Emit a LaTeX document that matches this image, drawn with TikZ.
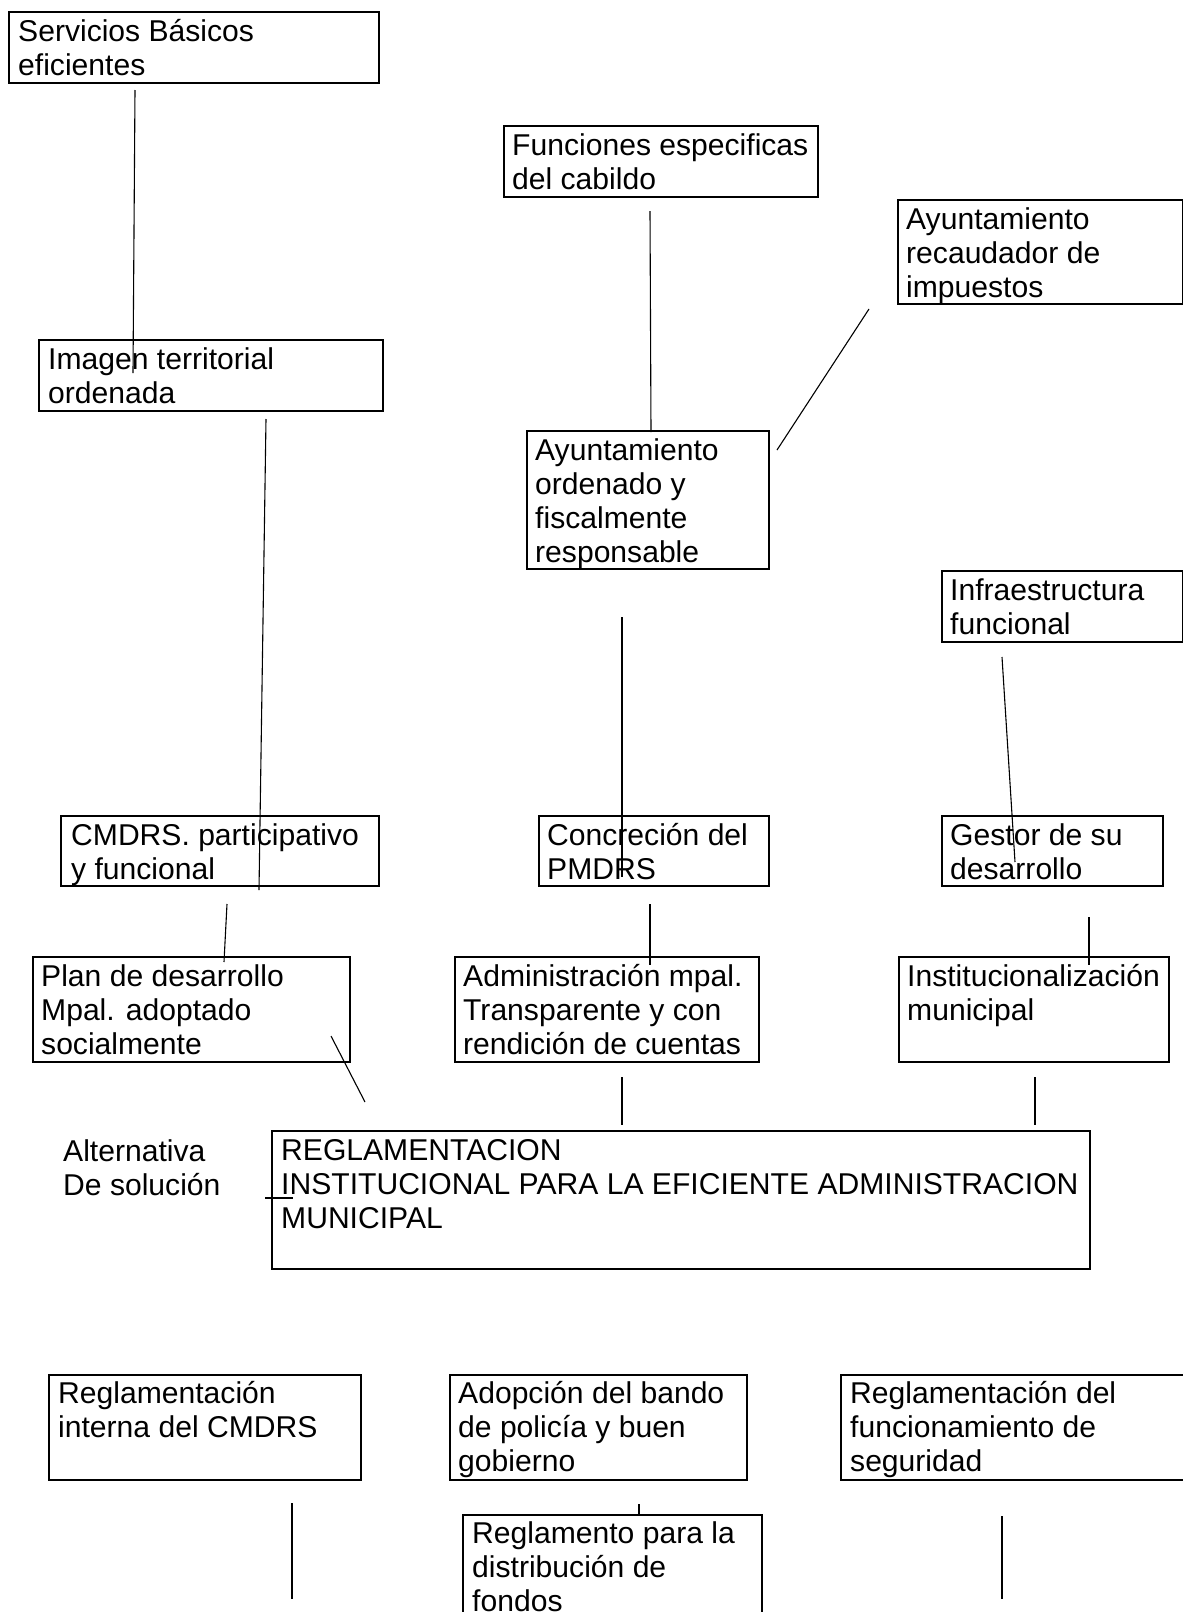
\documentclass[tikz,border=0pt]{standalone}
\usepackage{fontspec}
\setmainfont{Liberation Sans}
\begin{document}
\begin{tikzpicture}[x=1pt,y=-1pt,
  box/.style={draw=black,line width=1.8pt,inner sep=0pt,anchor=north west,rectangle},
  txt/.style={inner sep=0pt,anchor=north west,align=left,text=black,font=\fontsize{30.1}{34}\selectfont},
  conn/.style={draw=black,line width=1.1pt}]
\useasboundingbox (0,0) rectangle (1183,1612);
\fill[white] (0,0) rectangle (1183,1612);
% boxes
\node[box,minimum width=370pt,minimum height=71pt] (A) at (8,11) {};
\node[box,minimum width=344pt,minimum height=71pt] (B) at (38,339) {};
\node[box,minimum width=314pt,minimum height=71pt] (C) at (503,125) {};
\node[box,minimum width=285pt,minimum height=104pt] (D) at (897,199) {};
\node[box,minimum width=242pt,minimum height=138pt] (E) at (526,430) {};
\node[box,minimum width=241pt,minimum height=71pt] (F) at (941,570) {};
\node[box,minimum width=318pt,minimum height=70pt] (G) at (60,815) {};
\node[box,minimum width=230pt,minimum height=70pt] (H) at (538,815) {};
\node[box,minimum width=221pt,minimum height=70pt] (I) at (941,815) {};
\node[box,minimum width=317pt,minimum height=105pt] (J) at (32,956) {};
\node[box,minimum width=304pt,minimum height=105pt] (K) at (454,956) {};
\node[box,minimum width=270pt,minimum height=105pt] (L) at (898,956) {};
\node[box,minimum width=818pt,minimum height=138pt] (M) at (271,1130) {};
\node[box,minimum width=312pt,minimum height=105pt] (N) at (48,1374) {};
\node[box,minimum width=297pt,minimum height=105pt] (O) at (449,1374) {};
\node[box,minimum width=360pt,minimum height=105pt] (P) at (840,1374) {};
\node[box,minimum width=299pt,minimum height=130pt] (Q) at (462,1514) {};
% texts
\node[txt] (tA) at ([xshift=10pt,yshift=-6pt]A.north west) {\strut Servicios Básicos\\eficientes};
\node[txt] (tB) at ([xshift=10pt,yshift=-6pt]B.north west) {\strut Imagen territorial\\ordenada};
\node[txt] (tC) at ([xshift=9pt,yshift=-6pt]C.north west) {\strut Funciones especificas\\del cabildo};
\node[txt] (tD) at ([xshift=9pt,yshift=-6pt]D.north west) {\strut Ayuntamiento\\recaudador de\\impuestos};
\node[txt] (tE) at ([xshift=9pt,yshift=-6pt]E.north west) {\strut Ayuntamiento\\ordenado y\\fiscalmente\\responsable};
\node[txt] (tF) at ([xshift=9pt,yshift=-6pt]F.north west) {\strut Infraestructura\\funcional};
\node[txt] (tG) at ([xshift=11pt,yshift=-6pt]G.north west) {\strut CMDRS. participativo\\y funcional};
\node[txt] (tH) at ([xshift=9pt,yshift=-6pt]H.north west) {\strut Concreción del\\PMDRS};
\node[txt] (tI) at ([xshift=9pt,yshift=-6pt]I.north west) {\strut Gestor de su\\desarrollo};
\node[txt] (tJ) at ([xshift=9pt,yshift=-6pt]J.north west) {\strut Plan de desarrollo\\Mpal. adoptado\\socialmente};
\node[txt] (tK) at ([xshift=9pt,yshift=-6pt]K.north west) {\strut Administración mpal.\\Transparente y con\\rendición de cuentas};
\node[txt] (tL) at ([xshift=9pt,yshift=-6pt]L.north west) {\strut Institucionalización\\municipal};
\node[txt] (tM) at ([xshift=10pt,yshift=-6pt]M.north west) {\strut REGLAMENTACION\\INSTITUCIONAL PARA LA EFICIENTE ADMINISTRACION\\MUNICIPAL};
\node[txt] (tAlt) at (63,1137) {\strut Alternativa\\De solución};
\node[txt] (tN) at ([xshift=10pt,yshift=-5pt]N.north west) {\strut Reglamentación\\interna del CMDRS};
\node[txt] (tO) at ([xshift=9pt,yshift=-5pt]O.north west) {\strut Adopción del bando\\de policía y buen\\gobierno};
\node[txt] (tP) at ([xshift=10pt,yshift=-5pt]P.north west) {\strut Reglamentación del\\funcionamiento de\\seguridad};
\node[txt] (tQ) at ([xshift=10pt,yshift=-5pt]Q.north west) {\strut Reglamento para la\\distribución de\\fondos};
% connector end points
\coordinate (a1) at (135,90);   \coordinate (a2) at (133,373);
\coordinate (c1) at (650,211);  \coordinate (c2) at (651,432);
\coordinate (d1) at (869,309);  \coordinate (d2) at (777,450);
\coordinate (e1) at (622,617);  \coordinate (e2) at (622,877);
\coordinate (f1) at (1002,657); \coordinate (f2) at (1015,862);
\coordinate (b1) at (266,419);  \coordinate (b2) at (259,890);
\coordinate (g1) at (227,904);  \coordinate (g2) at (224,962);
\coordinate (h1) at (650,904);  \coordinate (h2) at (650,965);
\coordinate (i1) at (1089,917); \coordinate (i2) at (1089,965);
\coordinate (j1) at (331,1036); \coordinate (j2) at (365,1102);
\coordinate (k1) at (622,1077); \coordinate (k2) at (622,1125);
\coordinate (l1) at (1035,1077);\coordinate (l2) at (1035,1125);
\coordinate (t1) at (265,1198); \coordinate (t2) at (293,1198);
\coordinate (n1) at (292,1503); \coordinate (n2) at (292,1599);
\coordinate (o1) at (639,1504); \coordinate (o2) at (639,1516);
\coordinate (p1) at (1002,1516);\coordinate (p2) at (1002,1599);
% connectors
\draw[conn] (a1) -- (a2);
\draw[conn] (c1) -- (c2);
\draw[conn] (d1) -- (d2);
\draw[conn] (e1) -- (e2);
\draw[conn] (f1) -- (f2);
\draw[conn] (b1) -- (b2);
\draw[conn] (g1) -- (g2);
\draw[conn] (h1) -- (h2);
\draw[conn] (i1) -- (i2);
\draw[conn] (j1) -- (j2);
\draw[conn] (k1) -- (k2);
\draw[conn] (l1) -- (l2);
\draw[conn,line width=1.6pt] (t1) -- (t2);
\draw[conn] (n1) -- (n2);
\draw[conn] (o1) -- (o2);
\draw[conn] (p1) -- (p2);
\end{tikzpicture}
\end{document}
